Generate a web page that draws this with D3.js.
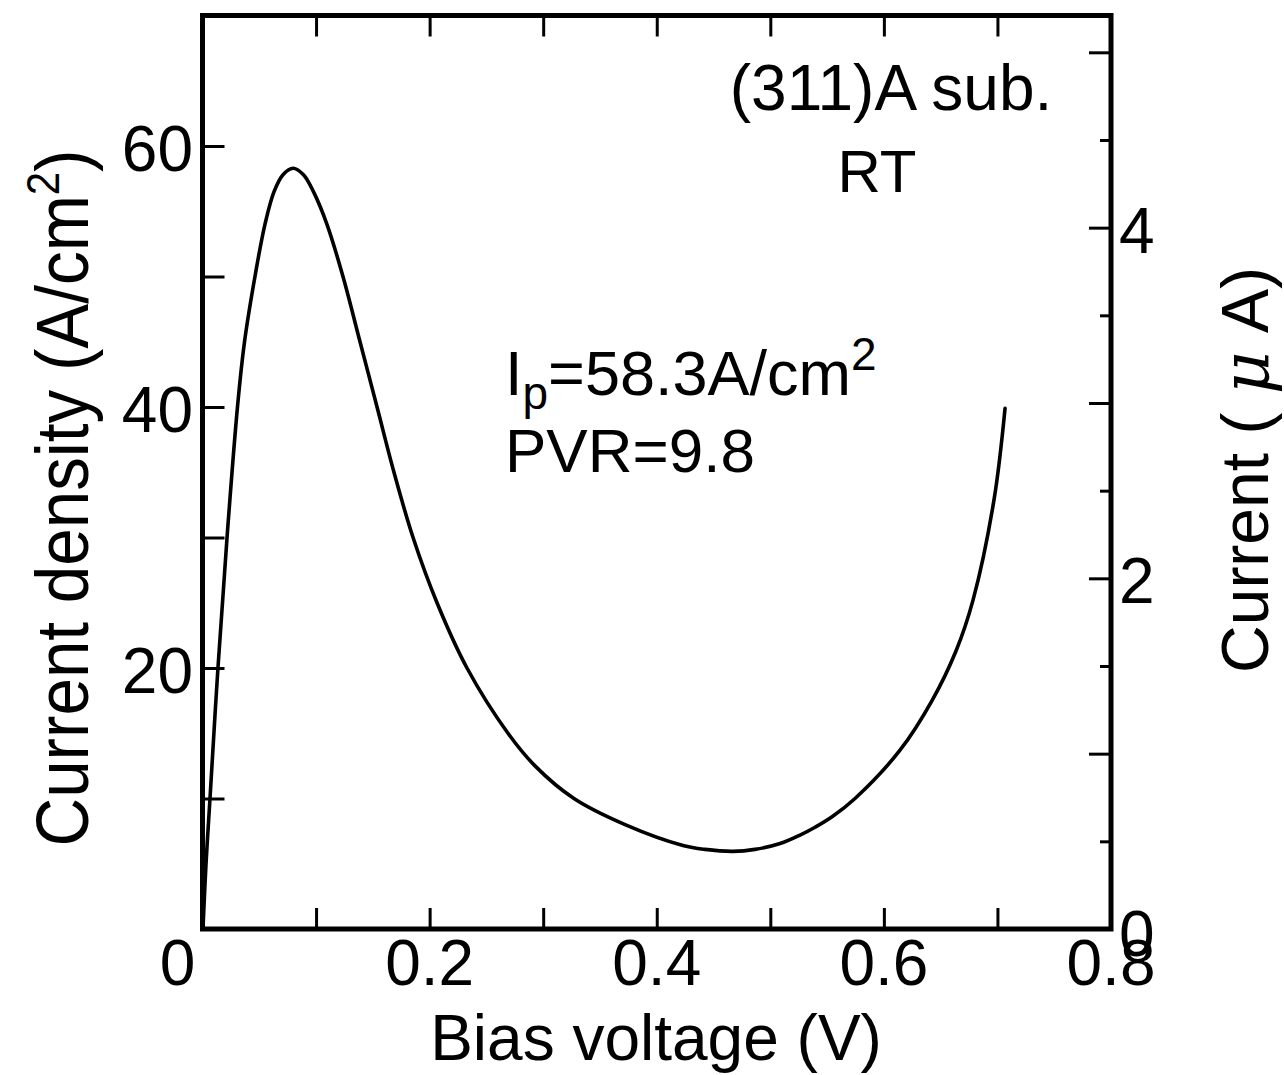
<!DOCTYPE html>
<html>
<head>
<meta charset="utf-8">
<script src="https://cdn.jsdelivr.net/npm/d3@7"></script>
<style>
  html, body { margin: 0; padding: 0; background: #fff; }
  svg { display: block; }
  text { font-family: "Liberation Sans", Arial, Helvetica, sans-serif; fill: #000; }
</style>
</head>
<body>
<svg id="chart" width="1284" height="1075"></svg>
<script>
// ---- data ----
const biasV = [0.0004, 0.0031, 0.0066, 0.0136, 0.0216, 0.0308, 0.037, 0.0462, 0.055, 0.063,
  0.0709, 0.0797, 0.0889, 0.0977, 0.1096, 0.1237, 0.1387, 0.1537, 0.1686, 0.1854,
  0.2065, 0.2329, 0.269, 0.2928, 0.3271, 0.3721, 0.4231, 0.4425, 0.4672, 0.4865,
  0.5086, 0.5262, 0.5394, 0.5544, 0.5746, 0.6142, 0.6424, 0.6635, 0.6785, 0.697, 0.7067];
const currentDensity = [0, 5, 10, 20, 30, 40, 45, 50, 54, 56.5,
  57.8, 58.3, 57.8, 56.5, 54, 50, 45, 40, 35, 30,
  25, 20, 15, 12.5, 10, 8, 6.4, 6.1, 5.95, 6.1,
  6.55, 7.2, 7.8, 8.6, 10, 13.7, 17.5, 21.3, 25.2, 32.9, 39.9];

const xTicks = [0.1, 0.2, 0.3, 0.4, 0.5, 0.6, 0.7];
const xTickLabels = ["0", "0.2", "0.4", "0.6", "0.8"];
const xLabelValues = [0, 0.2, 0.4, 0.6, 0.8];
const yLeftTicks = [10, 20, 30, 40, 50, 60];
const yLeftLabelValues = [20, 40, 60];
const yRightMajor = [1, 2, 3, 4, 5];
const yRightMinor = [0.5, 1.5, 2.5, 3.5, 4.5];
const yRightLabelValues = [0, 2, 4];

const svg = d3.select("#chart");
const L = 202.5, R = 1111, T = 15.5, B = 929;

const x = d3.scaleLinear().domain([0, 0.8]).range([L, R]);
const y = d3.scaleLinear().domain([0, 70]).range([B, T]);
const y2 = d3.scaleLinear().domain([0, 5.21]).range([B, T]);

function styleAxis(g, w) {
  g.select(".domain").remove();
  g.selectAll(".tick line").attr("stroke", "#000").attr("stroke-width", w);
  g.selectAll(".tick text").remove();
}

// ticks (inward)
svg.append("g").attr("transform", `translate(0,${B})`)
  .call(d3.axisBottom(x).tickValues(xTicks).tickSize(-21).tickFormat(""))
  .call(g => styleAxis(g, 3));
svg.append("g").attr("transform", `translate(0,${T})`)
  .call(d3.axisTop(x).tickValues(xTicks).tickSize(-21).tickFormat(""))
  .call(g => styleAxis(g, 3));
svg.append("g").attr("transform", `translate(${L},0)`)
  .call(d3.axisLeft(y).tickValues(yLeftTicks).tickSize(-22).tickFormat(""))
  .call(g => styleAxis(g, 3));
svg.append("g").attr("transform", `translate(${R},0)`)
  .call(d3.axisRight(y2).tickValues(yRightMajor).tickSize(-22).tickFormat(""))
  .call(g => styleAxis(g, 3));
svg.append("g").attr("transform", `translate(${R},0)`)
  .call(d3.axisRight(y2).tickValues(yRightMinor).tickSize(-11).tickFormat(""))
  .call(g => styleAxis(g, 3));

// frame
svg.append("rect").attr("x", L).attr("y", T).attr("width", R - L).attr("height", B - T)
  .attr("fill", "none").attr("stroke", "#000").attr("stroke-width", 5);

// curve
const pts = biasV.map((v, i) => [v, currentDensity[i]]);
svg.append("path").datum(pts)
  .attr("fill", "none").attr("stroke", "#000").attr("stroke-width", 3.6)
  .attr("stroke-linejoin", "round").attr("stroke-linecap", "round")
  .attr("d", d3.line().x(d => x(d[0])).y(d => y(d[1])).curve(d3.curveCatmullRom.alpha(0.5)));

// tick labels
const fs = 64;
svg.selectAll(".xl").data(xLabelValues).enter().append("text")
  .attr("x", (d, i) => i === 0 ? x(d) - 25 : x(d))
  .attr("y", 985).attr("text-anchor", "middle").attr("font-size", fs)
  .text((d, i) => xTickLabels[i]);
svg.selectAll(".yl").data(yLeftLabelValues).enter().append("text")
  .attr("x", 193).attr("y", d => y(d) + 25).attr("text-anchor", "end").attr("font-size", fs)
  .text(d => d);
svg.selectAll(".yr").data(yRightLabelValues).enter().append("text")
  .attr("x", 1119).attr("y", d => d === 0 ? 956 : y2(d) + 25).attr("text-anchor", "start").attr("font-size", fs)
  .text(d => d);

// axis titles
svg.append("text").attr("x", 656).attr("y", 1060).attr("text-anchor", "middle")
  .attr("font-size", 64).text("Bias voltage (V)");

const yt = svg.append("text").attr("transform", "translate(88,498) rotate(-90)")
  .attr("text-anchor", "middle").attr("font-size", 74)
  .attr("textLength", 697).attr("lengthAdjust", "spacingAndGlyphs");
yt.append("tspan").text("Current density (A/cm");
yt.append("tspan").attr("font-size", 46).attr("dy", -29).text("2");
yt.append("tspan").attr("dy", 29).text(")");

const yt2 = svg.append("text").attr("transform", "translate(1268,470) rotate(-90)")
  .attr("text-anchor", "middle").attr("font-size", 66);
yt2.append("tspan").text("Current ( ");
yt2.append("tspan").attr("font-family", "DejaVu Serif").attr("font-style", "italic").text("\u03BC");
yt2.append("tspan").text(" A)");

// annotations
svg.append("text").attr("x", 891).attr("y", 110).attr("text-anchor", "middle")
  .attr("font-size", 64).text("(311)A sub.");
svg.append("text").attr("x", 877).attr("y", 192).attr("text-anchor", "middle")
  .attr("font-size", 60).text("RT");

const ip = svg.append("text").attr("x", 505).attr("y", 395).attr("font-size", 63);
ip.append("tspan").text("I");
ip.append("tspan").attr("font-size", 46).attr("dy", 14).text("p");
ip.append("tspan").attr("dy", -14).text("=58.3A/cm");
ip.append("tspan").attr("font-size", 46).attr("dy", -25).text("2");
svg.append("text").attr("x", 505).attr("y", 472).attr("font-size", 62).text("PVR=9.8");
</script>
</body>
</html>
